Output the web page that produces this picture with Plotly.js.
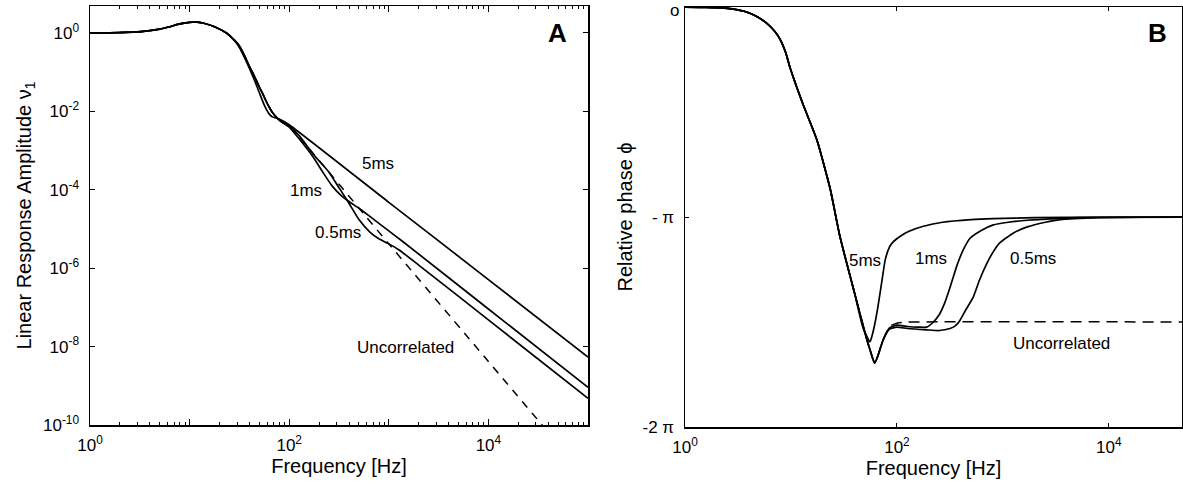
<!DOCTYPE html>
<html><head><meta charset="utf-8">
<script src="https://cdn.plot.ly/plotly-3.0.1.min.js"></script>
<style>html,body{margin:0;padding:0;background:#fff}</style>
</head><body><div id="chart" style="width:1183px;height:487px"></div>
<script>
// ---------- Panel A : log10(frequency) and log10(amplitude) ----------
const aFreqExp5ms = [0,0.2,0.43,0.6,0.7,0.8,0.9,1.0,1.05,1.1,1.17,1.25,1.37,1.45,1.5,1.55,1.6,1.65,1.7,1.75,1.8,1.83,1.87,1.92,2.0,3.0,4.0,5.0];
const aAmpExp5ms  = [0,0.005,0.02,0.06,0.1,0.16,0.23,0.27,0.28,0.27,0.23,0.16,0.0,-0.2,-0.37,-0.62,-0.9,-1.2,-1.52,-1.84,-2.07,-2.14,-2.17,-2.22,-2.34,-4.32,-6.29,-8.27];

const aFreqExp1ms = [0,0.2,0.43,0.6,0.7,0.8,0.9,1.0,1.05,1.1,1.17,1.25,1.37,1.45,1.5,1.55,1.6,1.65,1.7,1.73,1.78,1.83,1.88,1.93,2.0,2.1,2.25,2.35,2.43,2.52,2.6,2.7,2.8,3.0,3.13,4.0,5.0];
const aAmpExp1ms  = [0,0.005,0.02,0.06,0.1,0.16,0.23,0.27,0.28,0.27,0.23,0.16,0.0,-0.18,-0.33,-0.57,-0.85,-1.1,-1.38,-1.53,-1.8,-2.02,-2.17,-2.28,-2.4,-2.7,-3.2,-3.6,-3.9,-4.14,-4.3,-4.47,-4.66,-5.05,-5.3,-7.04,-9.04];

const aFreqExp05ms = [0,0.2,0.43,0.6,0.7,0.8,0.9,1.0,1.05,1.1,1.17,1.25,1.37,1.45,1.5,1.55,1.6,1.65,1.7,1.73,1.78,1.83,1.88,1.93,2.0,2.1,2.25,2.4,2.5,2.585,2.7,2.81,2.9,3.0,3.1,3.3,4.0,5.0];
const aAmpExp05ms  = [0,0.005,0.02,0.06,0.1,0.16,0.23,0.27,0.28,0.27,0.23,0.16,0.0,-0.18,-0.33,-0.57,-0.85,-1.1,-1.38,-1.53,-1.8,-2.02,-2.17,-2.28,-2.38,-2.62,-3.12,-3.55,-3.95,-4.28,-4.76,-5.08,-5.25,-5.38,-5.53,-5.92,-7.32,-9.32];

const aFreqExpUnc = [0,0.2,0.43,0.6,0.7,0.8,0.9,1.0,1.05,1.1,1.17,1.25,1.37,1.45,1.5,1.55,1.6,1.65,1.7,1.73,1.78,1.83,1.88,1.93,2.0,3.0,4.0,4.7];
const aAmpExpUnc  = [0,0.005,0.02,0.06,0.1,0.16,0.23,0.27,0.28,0.27,0.23,0.16,0.0,-0.18,-0.33,-0.57,-0.85,-1.1,-1.38,-1.53,-1.8,-2.02,-2.17,-2.28,-2.38,-5.38,-8.38,-10.48];

// ---------- Panel B : log10(frequency) and relative phase (rad) ----------
const bFreqExp5ms = [0,0.2,0.4,0.55,0.65,0.77,0.85,0.9,0.95,0.99,1.11,1.245,1.37,1.46,1.6,1.68,1.745,1.765,1.79,1.82,1.86,1.89,1.93,1.96,2.05,2.12,2.25,2.43,2.7,2.91,3.3,3.92,4.69];
const bPhase5ms   = [0,-0.005,-0.02,-0.06,-0.12,-0.24,-0.37,-0.49,-0.68,-0.9,-1.44,-1.99,-2.72,-3.42,-4.28,-4.8,-5.01,-4.92,-4.75,-4.49,-4.08,-3.78,-3.59,-3.52,-3.41,-3.35,-3.28,-3.22,-3.18,-3.165,-3.152,-3.145,-3.142];

const bFreqExp1ms = [0,0.2,0.4,0.55,0.65,0.77,0.85,0.9,0.95,0.99,1.11,1.245,1.37,1.46,1.6,1.71,1.75,1.79,1.82,1.87,1.93,2.0,2.1,2.2,2.28,2.34,2.4,2.45,2.5,2.57,2.63,2.69,2.8,2.91,3.05,3.23,3.5,3.7,4.0,4.69];
const bPhase1ms   = [0,-0.005,-0.02,-0.06,-0.12,-0.24,-0.37,-0.49,-0.68,-0.9,-1.44,-1.99,-2.72,-3.42,-4.28,-4.94,-5.15,-5.33,-5.22,-4.98,-4.8,-4.76,-4.78,-4.79,-4.79,-4.72,-4.6,-4.43,-4.2,-3.85,-3.62,-3.46,-3.34,-3.26,-3.22,-3.19,-3.165,-3.152,-3.146,-3.142];

const bFreqExp05ms = [0,0.2,0.4,0.55,0.65,0.77,0.85,0.9,0.95,0.99,1.11,1.245,1.37,1.46,1.6,1.71,1.75,1.79,1.82,1.87,1.93,2.0,2.1,2.28,2.4,2.5,2.55,2.59,2.65,2.72,2.78,2.85,2.91,2.97,3.1,3.23,3.4,3.54,3.92,4.3,4.69];
const bPhase05ms   = [0,-0.005,-0.02,-0.06,-0.12,-0.24,-0.37,-0.49,-0.68,-0.9,-1.44,-1.99,-2.72,-3.42,-4.28,-4.94,-5.15,-5.33,-5.22,-4.98,-4.82,-4.79,-4.81,-4.83,-4.84,-4.81,-4.77,-4.7,-4.53,-4.34,-4.08,-3.83,-3.66,-3.53,-3.38,-3.29,-3.22,-3.18,-3.152,-3.145,-3.142];

const bFreqExpUnc = [0,0.2,0.4,0.55,0.65,0.77,0.85,0.9,0.95,0.99,1.11,1.245,1.37,1.46,1.6,1.71,1.75,1.79,1.82,1.87,1.93,2.0,2.1,4.69];
const bPhaseUnc   = [0,-0.005,-0.02,-0.06,-0.12,-0.24,-0.37,-0.49,-0.68,-0.9,-1.44,-1.99,-2.72,-3.42,-4.28,-4.94,-5.15,-5.33,-5.22,-4.98,-4.78,-4.73,-4.715,-4.712];

// ---------- tick labels ----------
const aXTickVals = [1,10,100,1000,10000,100000];
const aXTickText = ['10<sup>0</sup>','','10<sup>2</sup>','','10<sup>4</sup>',''];
const aYTickVals = [1,1e-2,1e-4,1e-6,1e-8,1e-10];
const aYTickText = ['10<sup>0</sup>','10<sup>-2</sup>','10<sup>-4</sup>','10<sup>-6</sup>','10<sup>-8</sup>','10<sup>-10</sup>'];
const bXTickVals = [1,100,10000];
const bXTickText = ['10<sup>0</sup>','10<sup>2</sup>','10<sup>4</sup>'];
const bYTickVals = [0,-Math.PI,-2*Math.PI];
const bYTickText = ['','- π','-2 π'];
const bYTopLabel = 'o';   // label of the 0 tick, drawn so that it stays inside the page

const pow10 = a => a.map(v => Math.pow(10, v));
const minorVals = [];
for (let d = 0; d < 5; d++) for (let k = 2; k <= 9; k++) minorVals.push(k * Math.pow(10, d));

const W = 1183, H = 487;
const px = x => x / W, py = y => 1 - y / H;
const FONT = 'Liberation Sans, Arial, Helvetica, sans-serif';
const solid = {color: '#000', width: 1.7, shape: 'spline', smoothing: 0.5};

const traces = [
  {x: pow10(aFreqExp5ms), y: pow10(aAmpExp5ms), xaxis: 'x', yaxis: 'y', mode: 'lines', name: '5ms', line: solid},
  {x: pow10(aFreqExp1ms), y: pow10(aAmpExp1ms), xaxis: 'x', yaxis: 'y', mode: 'lines', name: '1ms', line: solid},
  {x: pow10(aFreqExp05ms), y: pow10(aAmpExp05ms), xaxis: 'x', yaxis: 'y', mode: 'lines', name: '0.5ms', line: solid},
  {x: pow10(aFreqExpUnc), y: pow10(aAmpExpUnc), xaxis: 'x', yaxis: 'y', mode: 'lines', name: 'Uncorrelated',
   line: {color: '#000', width: 1.5, dash: '8px,7px', shape: 'spline', smoothing: 0.5}},
  {x: pow10(bFreqExpUnc), y: bPhaseUnc, xaxis: 'x2', yaxis: 'y2', mode: 'lines', name: 'Uncorrelated',
   line: {color: '#000', width: 1.5, dash: '11px,7px', shape: 'spline', smoothing: 0.5}},
  {x: pow10(bFreqExp5ms), y: bPhase5ms, xaxis: 'x2', yaxis: 'y2', mode: 'lines', name: '5ms', line: solid},
  {x: pow10(bFreqExp1ms), y: bPhase1ms, xaxis: 'x2', yaxis: 'y2', mode: 'lines', name: '1ms', line: solid},
  {x: pow10(bFreqExp05ms), y: bPhase05ms, xaxis: 'x2', yaxis: 'y2', mode: 'lines', name: '0.5ms', line: solid}
];

const axisCommon = {
  showline: true, linecolor: '#000', linewidth: 1.5, mirror: 'allticks',
  ticks: 'inside', tickcolor: '#000', tickwidth: 1, showgrid: false, zeroline: false,
  tickfont: {family: FONT, size: 17, color: '#000'}, automargin: false
};
const titleFont = {family: FONT, size: 20, color: '#000'};

const ann = (text, x, y, size, bold) => ({
  text: bold ? '<b>' + text + '</b>' : text, xref: 'paper', yref: 'paper', x: px(x), y: py(y),
  xanchor: 'center', yanchor: 'middle', showarrow: false,
  font: {family: FONT, size: size, color: '#000'}
});

const layout = {
  width: W, height: H, margin: {l: 0, r: 0, t: 0, b: 0},
  paper_bgcolor: '#fff', plot_bgcolor: '#fff', showlegend: false,
  font: {family: FONT, color: '#000'},
  xaxis: Object.assign({}, axisCommon, {
    type: 'log', range: [0, 5], domain: [px(90), px(588)], anchor: 'y',
    tickmode: 'array', tickvals: aXTickVals, ticktext: aXTickText, ticklen: 6,
    minor: {ticks: 'inside', ticklen: 3, tickcolor: '#000', tickmode: 'array', tickvals: minorVals},
    ticklabelstandoff: 4,
    title: {text: 'Frequency [Hz]', font: titleFont, standoff: 2}
  }),
  yaxis: Object.assign({}, axisCommon, {
    type: 'log', range: [-10, 0.688], domain: [py(425), py(6)], anchor: 'x',
    tickmode: 'array', tickvals: aYTickVals, ticktext: aYTickText, ticklen: 5,
    ticklabelstandoff: 6,
    title: {text: 'Linear Response Amplitude ν<sub>1</sub>', font: titleFont, standoff: 6}
  }),
  xaxis2: Object.assign({}, axisCommon, {
    type: 'log', range: [0, 4.69], domain: [px(685), px(1182)], anchor: 'y2',
    tickmode: 'array', tickvals: bXTickVals, ticktext: bXTickText, ticklen: 4,
    ticklabelstandoff: 4,
    title: {text: 'Frequency [Hz]', font: titleFont, standoff: 2}
  }),
  yaxis2: Object.assign({}, axisCommon, {
    range: [-2 * Math.PI - 0.0005, 0.0005], domain: [py(427), py(7)], anchor: 'x2',
    tickmode: 'array', tickvals: bYTickVals, ticktext: bYTickText, ticklen: 4,
    ticklabelstandoff: 6,
    title: {text: 'Relative phase ϕ', font: titleFont, standoff: 4}
  }),
  annotations: [
    ann('5ms', 378, 163, 17), ann('1ms', 306, 190, 17), ann('0.5ms', 338, 233, 17),
    ann('Uncorrelated', 405, 347, 17), ann('A', 557, 33, 26, true),
    ann('5ms', 865, 260, 17), ann('1ms', 931, 258, 17), ann('0.5ms', 1033, 258, 17),
    ann('Uncorrelated', 1061, 343, 17), ann('B', 1157, 33, 26, true),
    {text: bYTopLabel, xref: 'paper', yref: 'paper', x: px(680), y: 1, xanchor: 'right', yanchor: 'top',
     showarrow: false, borderpad: 0, font: {family: FONT, size: 17, color: '#000'}}
  ]
};

Plotly.newPlot('chart', traces, layout, {staticPlot: true, displayModeBar: false});
</script></body></html>
